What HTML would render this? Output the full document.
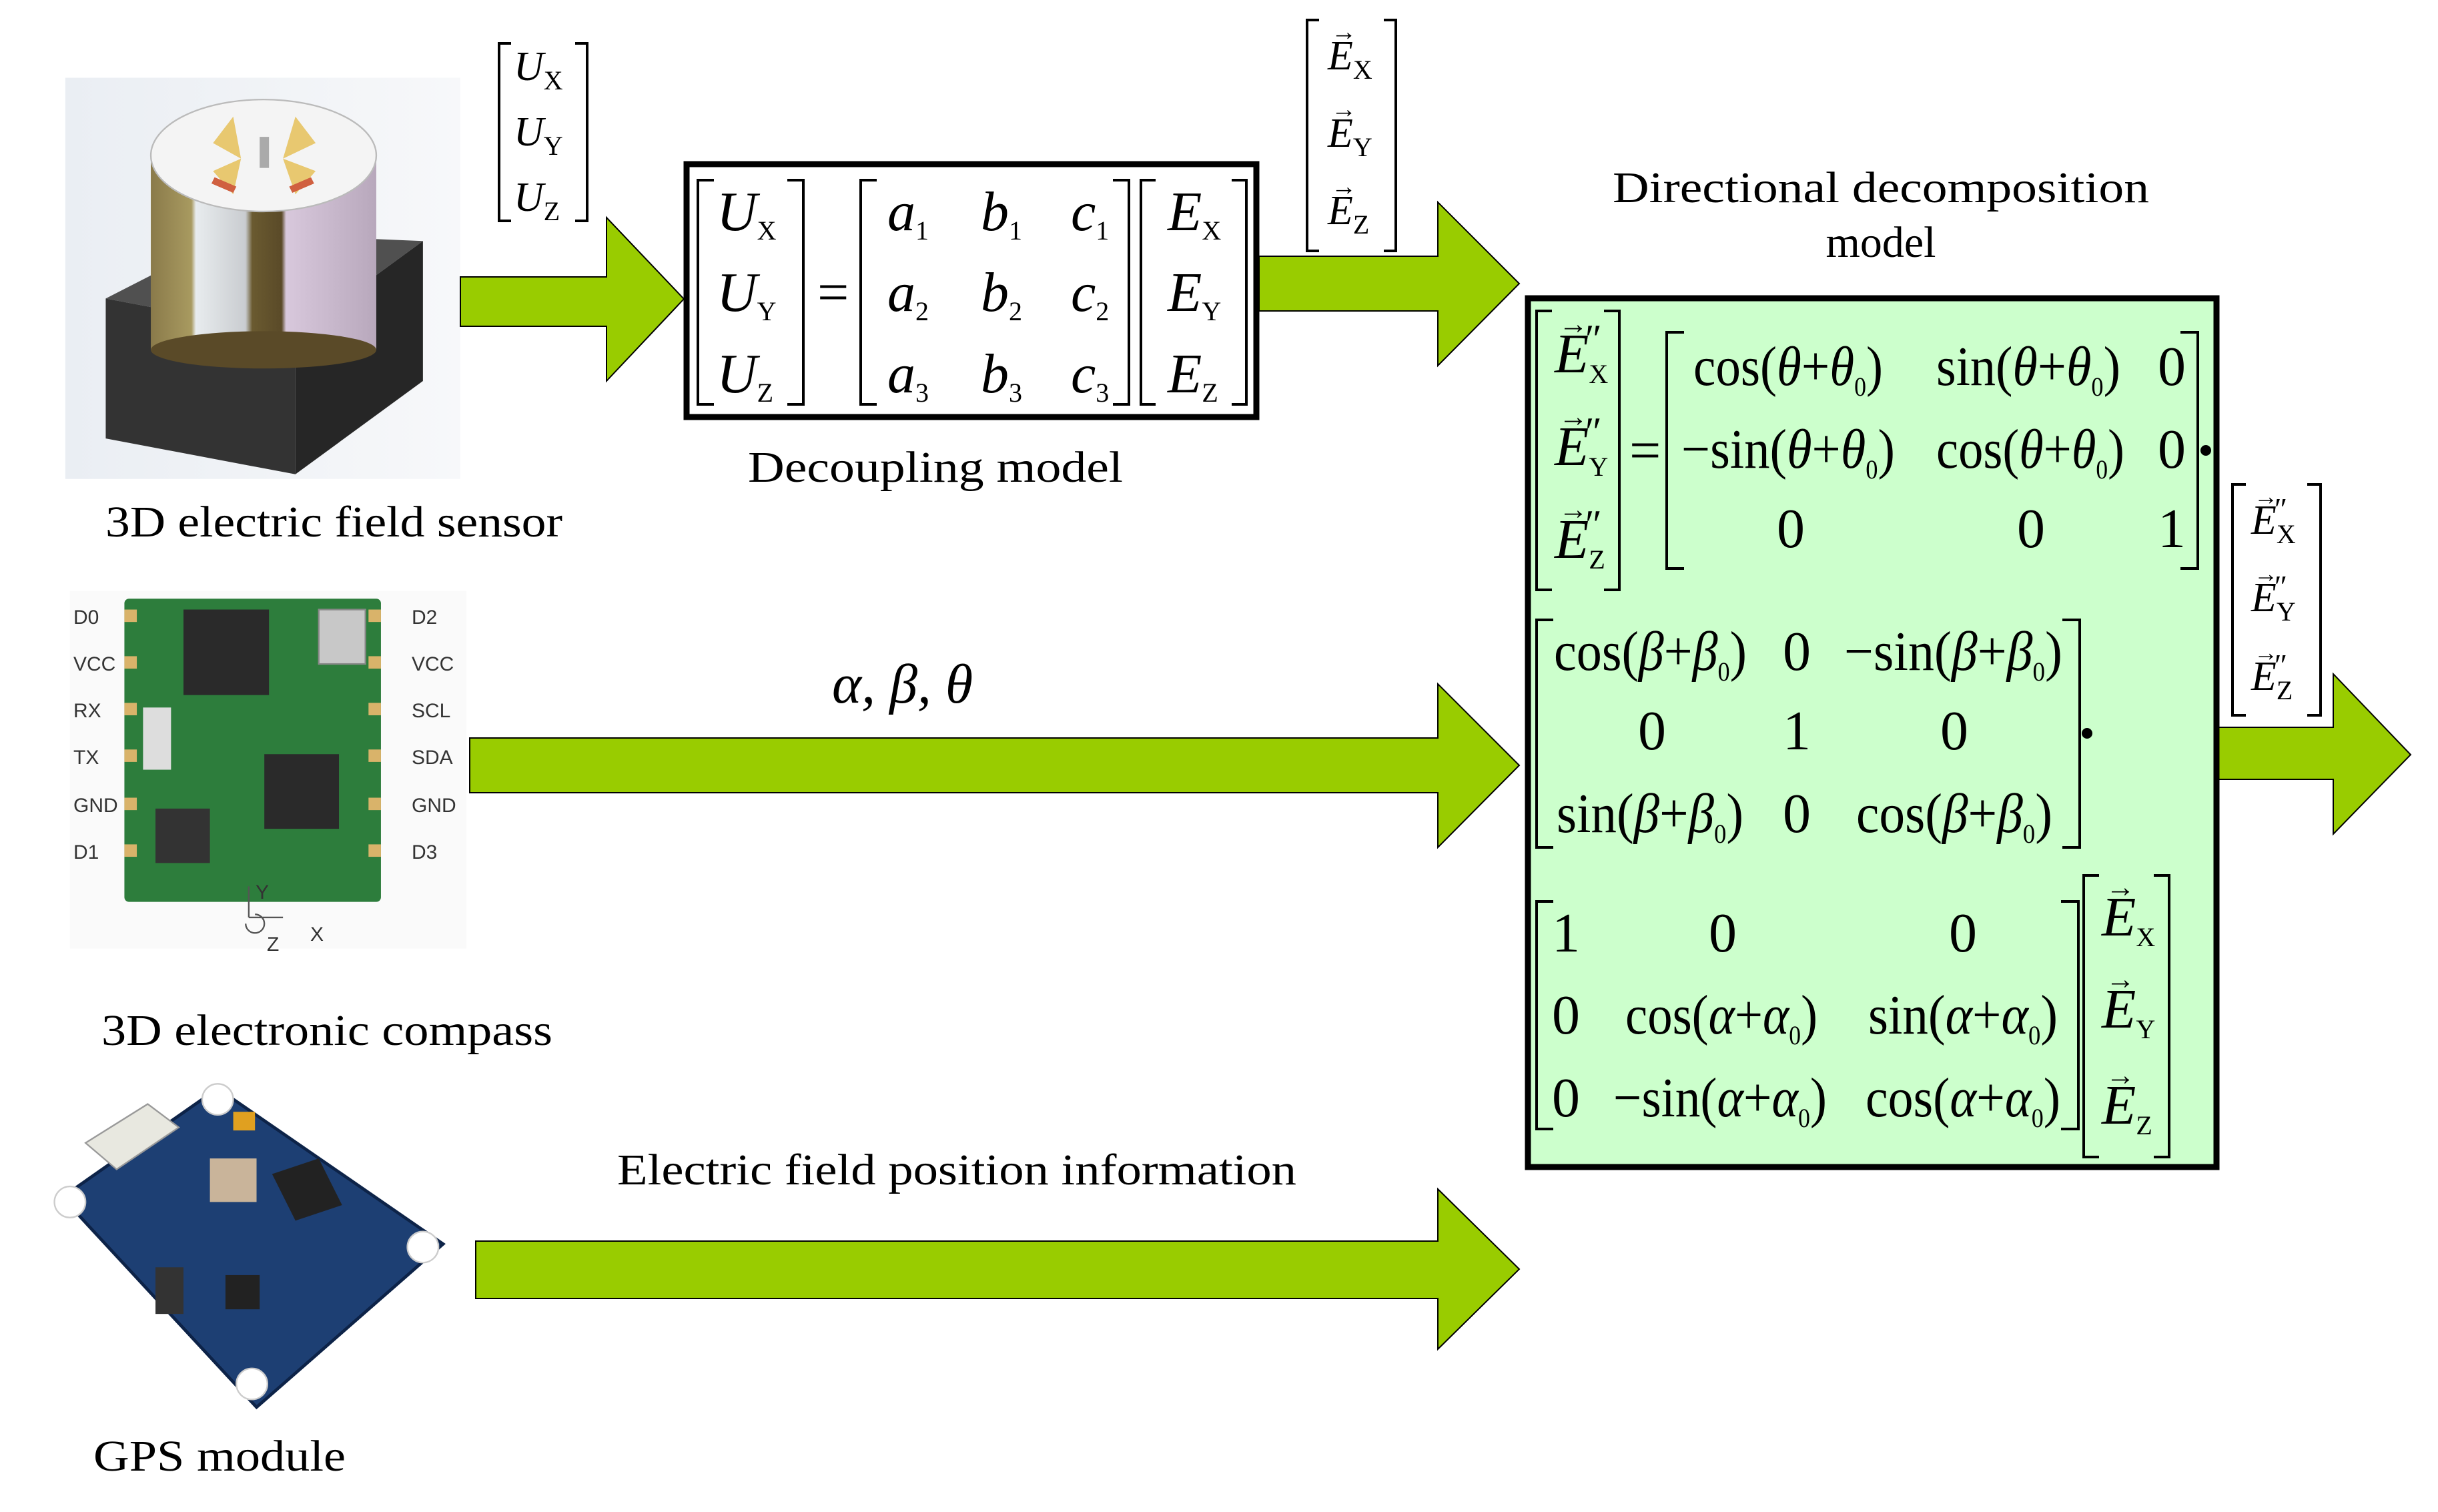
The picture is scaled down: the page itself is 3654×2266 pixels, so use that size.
<!DOCTYPE html>
<html><head><meta charset="utf-8"><style>
html,body{margin:0;padding:0;background:#fff;}
svg{display:block;}
text{font-family:"Liberation Serif",serif;fill:#000;}
.lab{font-size:66px;}
.it{font-style:italic;}
.m{font-size:84px;}
.s{font-size:40px;font-style:normal;}
.pin text{font-family:"Liberation Sans",sans-serif;font-size:30px;fill:#333;}
</style></head><body>
<svg width="3654" height="2266" viewBox="0 0 3654 2266" xmlns="http://www.w3.org/2000/svg">
<defs>
<linearGradient id="cyl" x1="0" x2="1" y1="0" y2="0">
<stop offset="0" stop-color="#8a7a4a"/><stop offset="0.18" stop-color="#a89a60"/><stop offset="0.2" stop-color="#e8ecee"/><stop offset="0.42" stop-color="#c9ccd0"/><stop offset="0.45" stop-color="#6a5a30"/><stop offset="0.58" stop-color="#5a4a28"/><stop offset="0.6" stop-color="#d8c8dc"/><stop offset="1" stop-color="#b8a8bc"/>
</linearGradient>
<linearGradient id="bg1" x1="0" x2="1"><stop offset="0" stop-color="#eaeef3"/><stop offset="1" stop-color="#f7f8fa"/></linearGradient>
</defs>

<g transform="scale(2.3304)">
<rect x="42" y="50" width="254" height="258" fill="url(#bg1)"/>
<polygon points="68,192 150,150 272,155 190,215" fill="#505050"/>
<polygon points="68,192 68,282 190,305 190,215" fill="#333"/>
<polygon points="190,215 190,305 272,245 272,155" fill="#262626"/>
<rect x="97" y="100" width="145" height="125" fill="url(#cyl)"/>
<ellipse cx="169.5" cy="225" rx="72.5" ry="12" fill="#5a4a28"/>
<ellipse cx="169.5" cy="100" rx="72.5" ry="36" fill="#f4f4f4" stroke="#bbb"/>
<polygon points="150,75 137,92 155,102" fill="#e8c870"/>
<polygon points="190,75 203,92 182,102" fill="#e8c870"/>
<polygon points="150,125 137,110 155,102" fill="#e8c870"/>
<polygon points="190,125 203,110 182,102" fill="#e8c870"/>
<polygon points="138,114 152,120 150,124 136,118" fill="#d06040"/>
<polygon points="200,114 186,120 188,124 202,118" fill="#d06040"/>
<rect x="167" y="88" width="6" height="20" fill="#aaa"/>
</g>

<g transform="scale(2.3304)">
<rect x="45" y="380" width="255" height="230" fill="#fafafa"/>
<rect x="80" y="385" width="165" height="195" fill="#2d7d3c" rx="3"/>
<rect x="118" y="392" width="55" height="55" fill="#2a2a2a"/>
<rect x="205" y="392" width="30" height="35" fill="#c8c8c8" stroke="#888"/>
<rect x="170" y="485" width="48" height="48" fill="#2a2a2a"/>
<rect x="100" y="520" width="35" height="35" fill="#333"/>
<rect x="92" y="455" width="18" height="40" fill="#ddd"/>
<g fill="#d9b36a">
<rect x="80" y="392" width="8" height="8"/><rect x="80" y="422" width="8" height="8"/><rect x="80" y="452" width="8" height="8"/><rect x="80" y="482" width="8" height="8"/><rect x="80" y="513" width="8" height="8"/><rect x="80" y="543" width="8" height="8"/>
<rect x="237" y="392" width="8" height="8"/><rect x="237" y="422" width="8" height="8"/><rect x="237" y="452" width="8" height="8"/><rect x="237" y="482" width="8" height="8"/><rect x="237" y="513" width="8" height="8"/><rect x="237" y="543" width="8" height="8"/>
</g>
<g stroke="#555" stroke-width="1" fill="none"><path d="M160 590 V570 M160 590 H182 M158 594 a6 6 0 1 0 6 -6"/></g>
</g>
<g class="pin">
<text x="110" y="935">D0</text><text x="110" y="1005">VCC</text><text x="110" y="1075">RX</text><text x="110" y="1145">TX</text><text x="110" y="1217">GND</text><text x="110" y="1287">D1</text>
<text x="617" y="935">D2</text><text x="617" y="1005">VCC</text><text x="617" y="1075">SCL</text><text x="617" y="1145">SDA</text><text x="617" y="1217">GND</text><text x="617" y="1287">D3</text>
<text x="383" y="1347" font-size="26">Y</text><text x="400" y="1425" font-size="26">Z</text><text x="465" y="1410" font-size="26">X</text>
</g>

<g transform="scale(2.3304)">
<polygon points="40,770 140,700 285,800 165,905" fill="#1d3f73" stroke="#0d2348" stroke-width="2"/>
<circle cx="45" cy="773" r="10" fill="#fff" stroke="#ccc"/>
<circle cx="140" cy="707" r="10" fill="#fff" stroke="#ccc"/>
<circle cx="272" cy="802" r="10" fill="#fff" stroke="#ccc"/>
<circle cx="162" cy="890" r="10" fill="#fff" stroke="#ccc"/>
<polygon points="55,735 95,710 115,725 75,752" fill="#e8e8e0" stroke="#999"/>
<rect x="135" y="745" width="30" height="28" fill="#c9b49a"/>
<polygon points="175,755 205,745 220,775 190,785" fill="#222"/>
<rect x="145" y="820" width="22" height="22" fill="#222"/>
<rect x="100" y="815" width="18" height="30" fill="#333"/>
<rect x="150" y="715" width="14" height="12" fill="#e0a020"/>
</g>

<text class="lab" x="158" y="804" textLength="685" lengthAdjust="spacingAndGlyphs">3D electric field sensor</text>
<text class="lab" x="152" y="1566" textLength="676" lengthAdjust="spacingAndGlyphs">3D electronic compass</text>
<text class="lab" x="140" y="2204" textLength="378" lengthAdjust="spacingAndGlyphs">GPS module</text>
<text class="lab" x="1121" y="722" textLength="562" lengthAdjust="spacingAndGlyphs">Decoupling model</text>
<text class="lab" x="2417" y="303" textLength="804" lengthAdjust="spacingAndGlyphs">Directional decomposition</text>
<text class="lab" x="2819" y="385" text-anchor="middle">model</text>
<text class="lab" x="925" y="1775" textLength="1018" lengthAdjust="spacingAndGlyphs">Electric field position information</text>
<text class="it" font-size="84" x="1247" y="1053">α,  β,  θ</text>

<g fill="#99cc00" stroke="#000" stroke-width="2">
<polygon points="690,415 909,415 909,326 1025,448 909,571 909,489 690,489"/>
<polygon points="1887,384 2155,384 2155,303 2277,425 2155,548 2155,466 1887,466"/>
<polygon points="704,1106 2155,1106 2155,1025 2277,1147 2155,1270 2155,1188 704,1188"/>
<polygon points="713,1860 2155,1860 2155,1782 2277,1902 2155,2022 2155,1946 713,1946"/>
<polygon points="3324,1090 3497,1090 3497,1010 3613,1131 3497,1250 3497,1168 3324,1168"/>
</g>

<g fill="none" stroke="#000" stroke-width="4">
<path d="M766 65 H748 V331 H766"/><path d="M862 65 H880 V331 H862"/>
</g>
<g font-size="62" class="it">
<text x="770" y="120">U<tspan class="s" font-size="32" dy="14">X</tspan></text>
<text x="770" y="218">U<tspan class="s" font-size="32" dy="14">Y</tspan></text>
<text x="770" y="316">U<tspan class="s" font-size="32" dy="14">Z</tspan></text>
</g>

<rect x="1029" y="246" width="854" height="379" fill="#fff" stroke="#000" stroke-width="9"/>
<g fill="none" stroke="#000" stroke-width="4">
<path d="M1070 270 H1046 V606 H1070"/><path d="M1180 270 H1204 V606 H1180"/>
<path d="M1314 270 H1290 V606 H1314"/><path d="M1668 270 H1692 V606 H1668"/>
<path d="M1732 270 H1710 V606 H1732"/><path d="M1846 270 H1868 V606 H1846"/>
</g>
<g class="m it">
<text x="1074" y="345">U<tspan class="s" dy="14">X</tspan></text>
<text x="1074" y="466">U<tspan class="s" dy="14">Y</tspan></text>
<text x="1074" y="588">U<tspan class="s" dy="14">Z</tspan></text>
<text x="1225" y="466" font-style="normal">=</text>
<text x="1330" y="345">a<tspan class="s" dy="14">1</tspan></text>
<text x="1330" y="466">a<tspan class="s" dy="14">2</tspan></text>
<text x="1330" y="588">a<tspan class="s" dy="14">3</tspan></text>
<text x="1470" y="345">b<tspan class="s" dy="14">1</tspan></text>
<text x="1470" y="466">b<tspan class="s" dy="14">2</tspan></text>
<text x="1470" y="588">b<tspan class="s" dy="14">3</tspan></text>
<text x="1605" y="345">c<tspan class="s" dy="14">1</tspan></text>
<text x="1605" y="466">c<tspan class="s" dy="14">2</tspan></text>
<text x="1605" y="588">c<tspan class="s" dy="14">3</tspan></text>
<text x="1750" y="345">E<tspan class="s" dy="14">X</tspan></text>
<text x="1750" y="466">E<tspan class="s" dy="14">Y</tspan></text>
<text x="1750" y="588">E<tspan class="s" dy="14">Z</tspan></text>
</g>

<g fill="none" stroke="#000" stroke-width="4">
<path d="M1977 30 H1959 V376 H1977"/><path d="M2074 30 H2092 V376 H2074"/>
</g>
<g font-size="62" class="it">
<text x="1990" y="104">E<tspan class="s" font-size="32" dy="14">X</tspan></text>
<text x="1990" y="220">E<tspan class="s" font-size="32" dy="14">Y</tspan></text>
<text x="1990" y="336">E<tspan class="s" font-size="32" dy="14">Z</tspan></text>
<g font-size="38" font-style="normal"><text x="1995" y="60">→</text><text x="1995" y="176">→</text><text x="1995" y="292">→</text></g>
</g>

<rect x="2290" y="447" width="1032" height="1302" fill="#ccffcc" stroke="#000" stroke-width="9"/>
<g fill="none" stroke="#000" stroke-width="4">
<path d="M2326 466 H2303 V884 H2326"/><path d="M2404 466 H2427 V884 H2404"/>
<path d="M2524 498 H2498 V852 H2524"/><path d="M3268 498 H3294 V852 H3268"/>
<path d="M2328 929 H2303 V1270 H2328"/><path d="M3091 929 H3117 V1270 H3091"/>
<path d="M2328 1351 H2303 V1692 H2328"/><path d="M3089 1351 H3115 V1692 H3089"/>
<path d="M3146 1312 H3123 V1734 H3146"/><path d="M3228 1312 H3251 V1734 H3228"/>
</g>
<circle cx="3306" cy="675" r="8" fill="#000"/>
<circle cx="3128" cy="1099" r="8" fill="#000"/>

<g class="m">
<text x="2330" y="558" class="it">E<tspan class="s" dy="16">X</tspan></text>
<text x="2330" y="697" class="it">E<tspan class="s" dy="16">Y</tspan></text>
<text x="2330" y="836" class="it">E<tspan class="s" dy="16">Z</tspan></text>
<g font-size="44"><text x="2336" y="500">→</text><text x="2336" y="639">→</text><text x="2336" y="778">→</text></g>
<g font-size="60" class="it"><text x="2372" y="528">″</text><text x="2372" y="667">″</text><text x="2372" y="806">″</text></g>
<text x="2442" y="703">=</text>
<text x="2538" y="577" textLength="284" lengthAdjust="spacingAndGlyphs">cos(<tspan class="it">θ</tspan>+<tspan class="it">θ</tspan><tspan class="s" dy="16">0</tspan><tspan dy="-16">)</tspan></text>
<text x="2902" y="577" textLength="276" lengthAdjust="spacingAndGlyphs">sin(<tspan class="it">θ</tspan>+<tspan class="it">θ</tspan><tspan class="s" dy="16">0</tspan><tspan dy="-16">)</tspan></text>
<text x="3234" y="577">0</text>
<text x="2520" y="701" textLength="320" lengthAdjust="spacingAndGlyphs">−sin(<tspan class="it">θ</tspan>+<tspan class="it">θ</tspan><tspan class="s" dy="16">0</tspan><tspan dy="-16">)</tspan></text>
<text x="2902" y="701" textLength="282" lengthAdjust="spacingAndGlyphs">cos(<tspan class="it">θ</tspan>+<tspan class="it">θ</tspan><tspan class="s" dy="16">0</tspan><tspan dy="-16">)</tspan></text>
<text x="3234" y="701">0</text>
<text x="2663" y="820">0</text><text x="3023" y="820">0</text><text x="3234" y="820">1</text>
<text x="2329" y="1004" textLength="289" lengthAdjust="spacingAndGlyphs">cos(<tspan class="it">β</tspan>+<tspan class="it">β</tspan><tspan class="s" dy="16">0</tspan><tspan dy="-16">)</tspan></text>
<text x="2672" y="1004">0</text>
<text x="2764" y="1004" textLength="327" lengthAdjust="spacingAndGlyphs">−sin(<tspan class="it">β</tspan>+<tspan class="it">β</tspan><tspan class="s" dy="16">0</tspan><tspan dy="-16">)</tspan></text>
<text x="2455" y="1123">0</text><text x="2672" y="1123">1</text><text x="2908" y="1123">0</text>
<text x="2333" y="1247" textLength="280" lengthAdjust="spacingAndGlyphs">sin(<tspan class="it">β</tspan>+<tspan class="it">β</tspan><tspan class="s" dy="16">0</tspan><tspan dy="-16">)</tspan></text>
<text x="2672" y="1247">0</text>
<text x="2782" y="1247" textLength="294" lengthAdjust="spacingAndGlyphs">cos(<tspan class="it">β</tspan>+<tspan class="it">β</tspan><tspan class="s" dy="16">0</tspan><tspan dy="-16">)</tspan></text>
<text x="2326" y="1426">1</text><text x="2561" y="1426">0</text><text x="2921" y="1426">0</text>
<text x="2326" y="1549">0</text>
<text x="2436" y="1549" textLength="288" lengthAdjust="spacingAndGlyphs">cos(<tspan class="it">α</tspan>+<tspan class="it">α</tspan><tspan class="s" dy="16">0</tspan><tspan dy="-16">)</tspan></text>
<text x="2800" y="1549" textLength="284" lengthAdjust="spacingAndGlyphs">sin(<tspan class="it">α</tspan>+<tspan class="it">α</tspan><tspan class="s" dy="16">0</tspan><tspan dy="-16">)</tspan></text>
<text x="2326" y="1673">0</text>
<text x="2418" y="1673" textLength="320" lengthAdjust="spacingAndGlyphs">−sin(<tspan class="it">α</tspan>+<tspan class="it">α</tspan><tspan class="s" dy="16">0</tspan><tspan dy="-16">)</tspan></text>
<text x="2796" y="1673" textLength="292" lengthAdjust="spacingAndGlyphs">cos(<tspan class="it">α</tspan>+<tspan class="it">α</tspan><tspan class="s" dy="16">0</tspan><tspan dy="-16">)</tspan></text>
<text x="3150" y="1402" class="it">E<tspan class="s" dy="16">X</tspan></text>
<text x="3150" y="1540" class="it">E<tspan class="s" dy="16">Y</tspan></text>
<text x="3150" y="1684" class="it">E<tspan class="s" dy="16">Z</tspan></text>
<g font-size="44"><text x="3156" y="1344">→</text><text x="3156" y="1482">→</text><text x="3156" y="1626">→</text></g>
</g>

<rect x="3345" y="724" width="135" height="350" fill="#fff"/>
<g fill="none" stroke="#000" stroke-width="4">
<path d="M3366 726 H3346 V1072 H3366"/><path d="M3458 726 H3478 V1072 H3458"/>
</g>
<g font-size="62" class="it">
<text x="3374" y="800">E<tspan class="s" font-size="32" dy="14">X</tspan></text>
<text x="3374" y="916">E<tspan class="s" font-size="32" dy="14">Y</tspan></text>
<text x="3374" y="1034">E<tspan class="s" font-size="32" dy="14">Z</tspan></text>
<g font-size="36" font-style="normal"><text x="3378" y="756">→</text><text x="3378" y="872">→</text><text x="3378" y="990">→</text></g>
<g font-size="46"><text x="3406" y="778">″</text><text x="3406" y="894">″</text><text x="3406" y="1012">″</text></g>
</g>
</svg>
</body></html>
